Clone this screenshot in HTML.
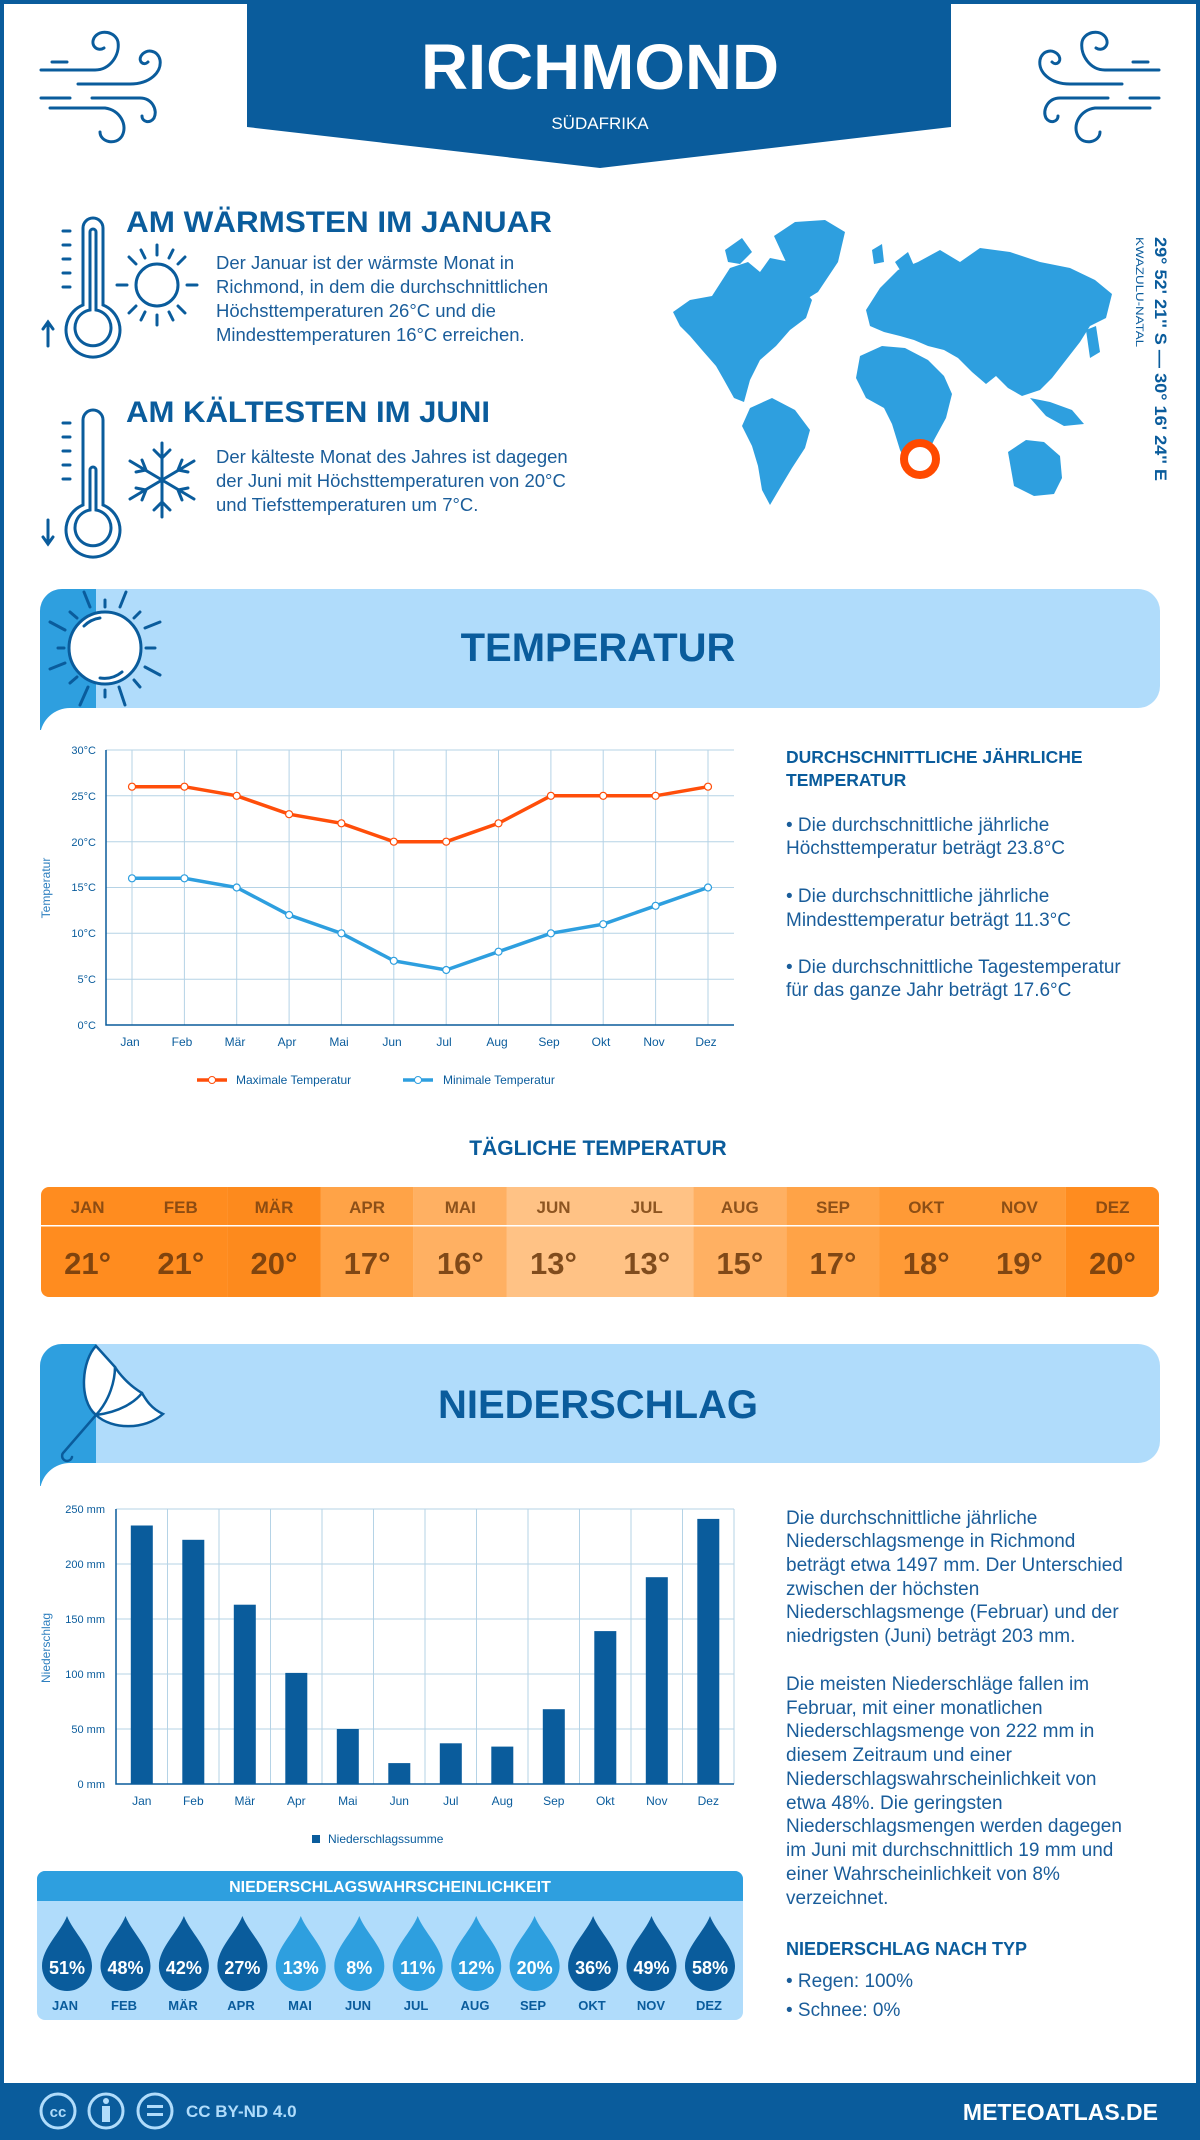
<!DOCTYPE html>
<html><head><meta charset="utf-8"><style>
html,body{margin:0;padding:0;background:#fff}
svg{display:block}
text{font-family:"Liberation Sans",sans-serif}
</style></head><body>
<svg width="1200" height="2140" viewBox="0 0 1200 2140" xmlns="http://www.w3.org/2000/svg">
<defs>
<path id="drop" d="M0,1916 C6,1932 25,1948 25,1966 A25,25 0 1 1 -25,1966 C-25,1948 -6,1932 0,1916 Z"/>
</defs>
<rect x="0" y="0" width="1200" height="2140" fill="#fff"/>
<rect x="0" y="0" width="4" height="2140" fill="#0a5c9c"/>
<rect x="1196" y="0" width="4" height="2140" fill="#0a5c9c"/>
<rect x="0" y="0" width="1200" height="4" fill="#0a5c9c"/>

<path d="M247,0 H951 V127 L600,168 L247,127 Z" fill="#0a5c9c"/>
<text x="600" y="89" text-anchor="middle" font-size="64" font-weight="bold" fill="#fff" textLength="358" lengthAdjust="spacingAndGlyphs">RICHMOND</text>
<text x="600" y="129" text-anchor="middle" font-size="17" fill="#fff">SÜDAFRIKA</text>

<g fill="none" stroke="#0a5c9c" stroke-width="3" stroke-linecap="round">
 <g id="wind">
  <path d="M41,70 H95 C110,70 120,55 118,42 C116,32 100,28 94,38 C90,46 98,52 104,48"/>
  <path d="M52,62 H67"/>
  <path d="M78,84 H130 C150,84 162,72 160,60 C158,50 146,48 141,56 C138,62 144,66 148,62"/>
  <path d="M41,98 H70"/>
  <path d="M92,98 H140 C152,98 158,110 154,118 C150,124 142,122 142,116"/>
  <path d="M50,108 H105 C120,110 128,125 122,136 C116,146 100,142 100,132"/>
 </g>
 <use href="#wind" transform="translate(1200,0) scale(-1,1)"/>
</g>

<g fill="none" stroke="#0a5c9c" stroke-width="3" stroke-linecap="round">
 <path d="M83,305 V228 A10,10 0 0 1 103,228 V305 A27,27 0 1 1 83,305 Z"/>
 <path d="M90,310 V232 A3,3 0 0 1 96,232 V310 A18,18 0 1 1 90,310 Z"/>
 <path d="M63,231 H70 M63,245 H70 M63,259 H70 M63,273 H70 M63,287 H70"/>
 <path d="M48,346 V322 M43,329 L48,322 L53,329"/>
 <circle cx="157" cy="285" r="21"/>
 <path d="M157,255 V245 M157,315 V325 M127,285 H117 M187,285 H197 M136,264 L129,257 M178,264 L185,257 M136,306 L129,313 M178,306 L185,313 M145,258 L141,250 M169,258 L173,250 M145,312 L141,320 M169,312 L173,320"/>
</g>
<g fill="none" stroke="#0a5c9c" stroke-width="3" stroke-linecap="round">
 <path d="M83,505 V420 A10,10 0 0 1 103,420 V505 A27,27 0 1 1 83,505 Z"/>
 <path d="M90,510 V470 A3,3 0 0 1 96,470 V510 A18,18 0 1 1 90,510 Z"/>
 <path d="M63,423 H70 M63,437 H70 M63,451 H70 M63,465 H70 M63,479 H70"/>
 <path d="M48,520 V544 M43,537 L48,544 L53,537"/>
 <path d="M162,443 V517 M130,461 L194,499 M130,499 L194,461"/>
 <path d="M154,450 L162,458 L170,450 M154,510 L162,502 L170,510 M136,472 L146,470 L142,460 M188,488 L178,490 L182,500 M136,488 L146,490 L142,500 M188,472 L178,470 L182,460"/>
</g>

<text x="126" y="232" font-size="30" font-weight="bold" fill="#0a5c9c" textLength="426" lengthAdjust="spacingAndGlyphs">AM WÄRMSTEN IM JANUAR</text>
<g font-size="18.5" fill="#1a5d9a">
<text x="216" y="269">Der Januar ist der wärmste Monat in</text>
<text x="216" y="293">Richmond, in dem die durchschnittlichen</text>
<text x="216" y="317">Höchsttemperaturen 26°C und die</text>
<text x="216" y="341">Mindesttemperaturen 16°C erreichen.</text>
</g>
<text x="126" y="422" font-size="30" font-weight="bold" fill="#0a5c9c" textLength="364" lengthAdjust="spacingAndGlyphs">AM KÄLTESTEN IM JUNI</text>
<g font-size="18.5" fill="#1a5d9a">
<text x="216" y="463">Der kälteste Monat des Jahres ist dagegen</text>
<text x="216" y="487">der Juni mit Höchsttemperaturen von 20°C</text>
<text x="216" y="511">und Tiefsttemperaturen um 7°C.</text>
</g>

<g fill="#2e9fdf">
 <path d="M673,312 L690,300 L712,296 L730,268 L748,262 L760,272 L770,258 L790,262 L800,285 L812,300 L806,318 L790,330 L776,346 L760,360 L750,380 L744,402 L734,398 L724,380 L716,366 L702,350 L690,336 L680,326 Z"/>
 <path d="M725,250 L742,238 L752,252 L740,264 L728,262 Z"/>
 <path d="M774,236 L795,222 L825,220 L845,232 L838,262 L818,292 L805,300 L796,285 L786,262 Z"/>
 <path d="M750,408 L772,398 L795,410 L810,430 L805,448 L792,468 L780,488 L770,505 L762,490 L758,466 L752,446 L742,426 Z"/>
 <path d="M866,310 L880,288 L898,270 L918,262 L940,250 L960,262 L980,248 L1010,252 L1040,262 L1070,268 L1095,280 L1112,294 L1106,318 L1090,326 L1080,342 L1066,360 L1052,378 L1040,390 L1022,396 L1008,388 L996,376 L986,384 L972,372 L958,358 L944,350 L928,346 L914,340 L900,336 L884,332 L870,326 Z"/>
 <path d="M895,262 L908,252 L915,268 L905,278 Z"/>
 <path d="M860,356 L882,346 L905,348 L928,360 L944,376 L952,394 L946,418 L934,440 L924,462 L910,470 L900,450 L892,424 L884,408 L866,398 L856,378 Z"/>
 <path d="M1008,452 L1026,440 L1044,442 L1060,456 L1062,478 L1054,494 L1034,496 L1014,486 Z"/>
 <path d="M1030,398 L1050,402 L1072,410 L1084,424 L1064,426 L1046,416 Z"/>
 <path d="M1086,330 L1096,326 L1100,352 L1090,358 Z"/>
 <path d="M872,250 L882,244 L884,262 L874,264 Z"/>
</g>
<circle cx="920" cy="459" r="16" fill="#fff" stroke="#ff4a00" stroke-width="8"/>
<text transform="translate(1155,237) rotate(90)" font-size="17" font-weight="bold" fill="#0a5c9c" textLength="244" lengthAdjust="spacingAndGlyphs">29° 52' 21'' S — 30° 16' 24'' E</text>
<text transform="translate(1136,237) rotate(90)" font-size="11" fill="#0a5c9c" textLength="110" lengthAdjust="spacingAndGlyphs">KWAZULU-NATAL</text>

<rect x="40" y="589" width="1120" height="119" rx="22" fill="#b0dcfb"/>
<path d="M40,730 V611 A22,22 0 0 1 62,589 H96 V730 Z" fill="#2e9fdf"/>
<path d="M40,740 V735 A30,30 0 0 1 70,708 H140 V740 Z" fill="#fff"/>
<g stroke="#0a5c9c" stroke-width="3" stroke-linecap="round" fill="none">
 <path d="M105,600 V607 M105,690 V697 M58,648 H64 M146,648 H155 M84,592 L90,607 M126,592 L120,607 M70,612 L77,618 M140,612 L134,618 M50,622 L65,630 M160,622 L145,628 M50,669 L65,663 M160,675 L145,667 M70,683 L77,677 M140,687 L134,680 M80,705 L88,687 M125,705 L119,687"/>
 <circle cx="105" cy="648" r="36" fill="#fff"/>
 <path d="M84,626 A28,28 0 0 1 100,618 M100,678 A28,28 0 0 0 122,672"/>
</g>
<text x="598" y="661" text-anchor="middle" font-size="40" font-weight="bold" fill="#0a5c9c">TEMPERATUR</text>

<g stroke="#b5d3e6" stroke-width="1">
 <path d="M106,750 H734 M106,795.8 H734 M106,841.7 H734 M106,887.5 H734 M106,933.3 H734 M106,979.2 H734"/>
 <path d="M132,750 V1025 M184.4,750 V1025 M236.7,750 V1025 M289.1,750 V1025 M341.4,750 V1025 M393.8,750 V1025 M446.2,750 V1025 M498.5,750 V1025 M550.9,750 V1025 M603.2,750 V1025 M655.6,750 V1025 M708,750 V1025"/>
</g>
<path d="M106,750 V1025 H734" stroke="#0a5c9c" stroke-width="1.5" fill="none"/>
<g font-size="11" fill="#0a5c9c" text-anchor="end">
<text x="96" y="754">30°C</text><text x="96" y="800">25°C</text><text x="96" y="846">20°C</text><text x="96" y="891">15°C</text><text x="96" y="937">10°C</text><text x="96" y="983">5°C</text><text x="96" y="1029">0°C</text>
</g>
<text transform="translate(50,888) rotate(-90)" text-anchor="middle" font-size="12" fill="#2e7fbf">Temperatur</text>
<g font-size="12" fill="#0a5c9c" text-anchor="middle">
<text x="130" y="1046">Jan</text><text x="182" y="1046">Feb</text><text x="235" y="1046">Mär</text><text x="287" y="1046">Apr</text><text x="339" y="1046">Mai</text><text x="392" y="1046">Jun</text><text x="444" y="1046">Jul</text><text x="497" y="1046">Aug</text><text x="549" y="1046">Sep</text><text x="601" y="1046">Okt</text><text x="654" y="1046">Nov</text><text x="706" y="1046">Dez</text>
</g>
<polyline points="132,786.7 184.4,786.7 236.7,795.8 289.1,814.2 341.4,823.3 393.8,841.7 446.2,841.7 498.5,823.3 550.9,795.8 603.2,795.8 655.6,795.8 708,786.7" fill="none" stroke="#ff4e0a" stroke-width="3.5"/>
<polyline points="132,878.3 184.4,878.3 236.7,887.5 289.1,915 341.4,933.3 393.8,960.8 446.2,970 498.5,951.7 550.9,933.3 603.2,924.2 655.6,905.8 708,887.5" fill="none" stroke="#2e9fdf" stroke-width="3.5"/>
<g fill="#fff" stroke="#ff4e0a" stroke-width="1.2">
<circle cx="132" cy="786.7" r="3.5"/><circle cx="184.4" cy="786.7" r="3.5"/><circle cx="236.7" cy="795.8" r="3.5"/><circle cx="289.1" cy="814.2" r="3.5"/><circle cx="341.4" cy="823.3" r="3.5"/><circle cx="393.8" cy="841.7" r="3.5"/><circle cx="446.2" cy="841.7" r="3.5"/><circle cx="498.5" cy="823.3" r="3.5"/><circle cx="550.9" cy="795.8" r="3.5"/><circle cx="603.2" cy="795.8" r="3.5"/><circle cx="655.6" cy="795.8" r="3.5"/><circle cx="708" cy="786.7" r="3.5"/>
</g>
<g fill="#fff" stroke="#2e9fdf" stroke-width="1.2">
<circle cx="132" cy="878.3" r="3.5"/><circle cx="184.4" cy="878.3" r="3.5"/><circle cx="236.7" cy="887.5" r="3.5"/><circle cx="289.1" cy="915" r="3.5"/><circle cx="341.4" cy="933.3" r="3.5"/><circle cx="393.8" cy="960.8" r="3.5"/><circle cx="446.2" cy="970" r="3.5"/><circle cx="498.5" cy="951.7" r="3.5"/><circle cx="550.9" cy="933.3" r="3.5"/><circle cx="603.2" cy="924.2" r="3.5"/><circle cx="655.6" cy="905.8" r="3.5"/><circle cx="708" cy="887.5" r="3.5"/>
</g>
<path d="M197,1080 H227" stroke="#ff4e0a" stroke-width="3.5"/><circle cx="212" cy="1080" r="3.5" fill="#fff" stroke="#ff4e0a"/>
<text x="236" y="1084" font-size="12" fill="#0a5c9c">Maximale Temperatur</text>
<path d="M403,1080 H433" stroke="#2e9fdf" stroke-width="3.5"/><circle cx="418" cy="1080" r="3.5" fill="#fff" stroke="#2e9fdf"/>
<text x="443" y="1084" font-size="12" fill="#0a5c9c">Minimale Temperatur</text>

<g font-size="17.5" font-weight="bold" fill="#0a5c9c">
<text x="786" y="763">DURCHSCHNITTLICHE JÄHRLICHE</text>
<text x="786" y="786">TEMPERATUR</text>
</g>
<g font-size="19" fill="#1a5d9a">
<text x="786" y="831">• Die durchschnittliche jährliche</text>
<text x="786" y="854">Höchsttemperatur beträgt 23.8°C</text>
<text x="786" y="902">• Die durchschnittliche jährliche</text>
<text x="786" y="926">Mindesttemperatur beträgt 11.3°C</text>
<text x="786" y="973">• Die durchschnittliche Tagestemperatur</text>
<text x="786" y="996">für das ganze Jahr beträgt 17.6°C</text>
</g>

<text x="598" y="1155" text-anchor="middle" font-size="21" font-weight="bold" fill="#0a5c9c">TÄGLICHE TEMPERATUR</text>
<clipPath id="tc"><rect x="41" y="1187" width="1118" height="110" rx="8"/></clipPath>
<g clip-path="url(#tc)">
<rect x="41" y="1187" width="186.4" height="110" fill="#ff8c1f"/>
<rect x="227.3" y="1187" width="93.2" height="110" fill="#fd8a1d"/>
<rect x="320.5" y="1187" width="93.2" height="110" fill="#ffa347"/>
<rect x="413.7" y="1187" width="93.2" height="110" fill="#ffb062"/>
<rect x="506.8" y="1187" width="186.4" height="110" fill="#ffc285"/>
<rect x="693.2" y="1187" width="93.2" height="110" fill="#ffb062"/>
<rect x="786.4" y="1187" width="93.2" height="110" fill="#ffa347"/>
<rect x="879.5" y="1187" width="186.4" height="110" fill="#ff9a36"/>
<rect x="1065.8" y="1187" width="93.2" height="110" fill="#ff8c1f"/>
</g>
<rect x="41" y="1225" width="1118" height="1.5" fill="#fff"/>
<g font-size="17" font-weight="bold" fill="#7a4210" text-anchor="middle" opacity="0.85">
<text x="87.6" y="1213">JAN</text><text x="180.8" y="1213">FEB</text><text x="274" y="1213">MÄR</text><text x="367.1" y="1213">APR</text><text x="460.3" y="1213">MAI</text><text x="553.5" y="1213">JUN</text><text x="646.7" y="1213">JUL</text><text x="739.8" y="1213">AUG</text><text x="833" y="1213">SEP</text><text x="926.2" y="1213">OKT</text><text x="1019.4" y="1213">NOV</text><text x="1112.5" y="1213">DEZ</text>
</g>
<g font-size="31" font-weight="bold" fill="#6a380c" text-anchor="middle" opacity="0.85">
<text x="87.6" y="1274">21°</text><text x="180.8" y="1274">21°</text><text x="274" y="1274">20°</text><text x="367.1" y="1274">17°</text><text x="460.3" y="1274">16°</text><text x="553.5" y="1274">13°</text><text x="646.7" y="1274">13°</text><text x="739.8" y="1274">15°</text><text x="833" y="1274">17°</text><text x="926.2" y="1274">18°</text><text x="1019.4" y="1274">19°</text><text x="1112.5" y="1274">20°</text>
</g>

<rect x="40" y="1344" width="1120" height="119" rx="22" fill="#b0dcfb"/>
<path d="M40,1486 V1366 A22,22 0 0 1 62,1344 H96 V1486 Z" fill="#2e9fdf"/>
<path d="M40,1490 A30,30 0 0 1 70,1463 H140 V1490 Z" fill="#fff"/>
<g stroke="#0a5c9c" stroke-width="2.5" fill="none" stroke-linecap="round">
 <path d="M96,1346 C82,1360 78,1400 96,1415 C112,1430 145,1430 163,1414 C150,1408 145,1398 142,1393 C128,1385 118,1372 115,1367 Z" fill="#fff"/>
 <path d="M96,1415 C110,1400 115,1380 115,1367 M96,1415 C120,1412 135,1402 142,1393"/>
 <path d="M96,1415 L64,1452 A5,5 0 1 0 72,1457"/>
</g>
<text x="598" y="1418" text-anchor="middle" font-size="40" font-weight="bold" fill="#0a5c9c">NIEDERSCHLAG</text>

<g stroke="#b5d3e6" stroke-width="1">
 <path d="M116,1509 H734 M116,1564 H734 M116,1619 H734 M116,1674 H734 M116,1729 H734"/>
 <path d="M167.5,1509 V1784 M219,1509 V1784 M270.5,1509 V1784 M322,1509 V1784 M373.5,1509 V1784 M425,1509 V1784 M476.5,1509 V1784 M528,1509 V1784 M579.5,1509 V1784 M631,1509 V1784 M682.5,1509 V1784 M734,1509 V1784"/>
</g>
<path d="M116,1509 V1784 H734" stroke="#0a5c9c" stroke-width="1.5" fill="none"/>
<g font-size="11" fill="#0a5c9c" text-anchor="end">
<text x="105" y="1513">250 mm</text><text x="105" y="1568">200 mm</text><text x="105" y="1623">150 mm</text><text x="105" y="1678">100 mm</text><text x="105" y="1733">50 mm</text><text x="105" y="1788">0 mm</text>
</g>
<text transform="translate(50,1648) rotate(-90)" text-anchor="middle" font-size="12" fill="#2e7fbf">Niederschlag</text>
<g fill="#0a5c9c">
<rect x="130.8" y="1525.5" width="22" height="258.5"/>
<rect x="182.3" y="1539.8" width="22" height="244.2"/>
<rect x="233.8" y="1604.7" width="22" height="179.3"/>
<rect x="285.3" y="1672.9" width="22" height="111.1"/>
<rect x="336.8" y="1729" width="22" height="55"/>
<rect x="388.3" y="1763.1" width="22" height="20.9"/>
<rect x="439.8" y="1743.3" width="22" height="40.7"/>
<rect x="491.3" y="1746.6" width="22" height="37.4"/>
<rect x="542.8" y="1709.2" width="22" height="74.8"/>
<rect x="594.3" y="1631.1" width="22" height="152.9"/>
<rect x="645.8" y="1577.2" width="22" height="206.8"/>
<rect x="697.3" y="1518.9" width="22" height="265.1"/>
</g>
<g font-size="12" fill="#0a5c9c" text-anchor="middle">
<text x="141.8" y="1805">Jan</text><text x="193.3" y="1805">Feb</text><text x="244.8" y="1805">Mär</text><text x="296.3" y="1805">Apr</text><text x="347.8" y="1805">Mai</text><text x="399.3" y="1805">Jun</text><text x="450.8" y="1805">Jul</text><text x="502.3" y="1805">Aug</text><text x="553.8" y="1805">Sep</text><text x="605.3" y="1805">Okt</text><text x="656.8" y="1805">Nov</text><text x="708.3" y="1805">Dez</text>
</g>
<rect x="312" y="1835" width="8" height="8" fill="#0a5c9c"/>
<text x="328" y="1843" font-size="12" fill="#0a5c9c">Niederschlagssumme</text>

<rect x="37" y="1871" width="706" height="149" rx="8" fill="#b0dcfb"/>
<path d="M37,1901 V1879 A8,8 0 0 1 45,1871 H735 A8,8 0 0 1 743,1879 V1901 Z" fill="#2e9fdf"/>
<text x="390" y="1892" text-anchor="middle" font-size="16" font-weight="bold" fill="#fff">NIEDERSCHLAGSWAHRSCHEINLICHKEIT</text>
<g fill="#0a5c9c"><use href="#drop" x="67"/><use href="#drop" x="125.5"/><use href="#drop" x="183.9"/><use href="#drop" x="242.4"/><use href="#drop" x="593.1"/><use href="#drop" x="651.5"/><use href="#drop" x="710"/></g>
<g fill="#2e9fdf"><use href="#drop" x="300.8"/><use href="#drop" x="359.3"/><use href="#drop" x="417.7"/><use href="#drop" x="476.2"/><use href="#drop" x="534.6"/></g>
<g font-size="18" font-weight="bold" fill="#fff" text-anchor="middle">
<text x="67" y="1974">51%</text><text x="125.5" y="1974">48%</text><text x="183.9" y="1974">42%</text><text x="242.4" y="1974">27%</text><text x="300.8" y="1974">13%</text><text x="359.3" y="1974">8%</text><text x="417.7" y="1974">11%</text><text x="476.2" y="1974">12%</text><text x="534.6" y="1974">20%</text><text x="593.1" y="1974">36%</text><text x="651.5" y="1974">49%</text><text x="710" y="1974">58%</text>
</g>
<g font-size="13" font-weight="bold" fill="#0a5c9c" text-anchor="middle">
<text x="65" y="2010">JAN</text><text x="124" y="2010">FEB</text><text x="183" y="2010">MÄR</text><text x="241" y="2010">APR</text><text x="300" y="2010">MAI</text><text x="358" y="2010">JUN</text><text x="416" y="2010">JUL</text><text x="475" y="2010">AUG</text><text x="533" y="2010">SEP</text><text x="592" y="2010">OKT</text><text x="651" y="2010">NOV</text><text x="709" y="2010">DEZ</text>
</g>

<g font-size="19" fill="#1a5d9a">
<text x="786" y="1524">Die durchschnittliche jährliche</text>
<text x="786" y="1547">Niederschlagsmenge in Richmond</text>
<text x="786" y="1571">beträgt etwa 1497 mm. Der Unterschied</text>
<text x="786" y="1595">zwischen der höchsten</text>
<text x="786" y="1618">Niederschlagsmenge (Februar) und der</text>
<text x="786" y="1642">niedrigsten (Juni) beträgt 203 mm.</text>
<text x="786" y="1690">Die meisten Niederschläge fallen im</text>
<text x="786" y="1714">Februar, mit einer monatlichen</text>
<text x="786" y="1737">Niederschlagsmenge von 222 mm in</text>
<text x="786" y="1761">diesem Zeitraum und einer</text>
<text x="786" y="1785">Niederschlagswahrscheinlichkeit von</text>
<text x="786" y="1809">etwa 48%. Die geringsten</text>
<text x="786" y="1832">Niederschlagsmengen werden dagegen</text>
<text x="786" y="1856">im Juni mit durchschnittlich 19 mm und</text>
<text x="786" y="1880">einer Wahrscheinlichkeit von 8%</text>
<text x="786" y="1904">verzeichnet.</text>
</g>
<text x="786" y="1955" font-size="18" font-weight="bold" fill="#0a5c9c">NIEDERSCHLAG NACH TYP</text>
<g font-size="19" fill="#1a5d9a">
<text x="786" y="1987">• Regen: 100%</text>
<text x="786" y="2016">• Schnee: 0%</text>
</g>

<rect x="0" y="2083" width="1200" height="57" fill="#0a5c9c"/>
<g fill="none" stroke="#b0dcfb" stroke-width="3">
<circle cx="58" cy="2111" r="17"/><circle cx="106" cy="2111" r="17"/><circle cx="155" cy="2111" r="17"/>
</g>
<text x="58" y="2117" text-anchor="middle" font-size="15" font-weight="bold" fill="#b0dcfb">cc</text>
<circle cx="106" cy="2101" r="3" fill="#b0dcfb"/>
<rect x="102" y="2106" width="8" height="16" fill="#b0dcfb"/>
<rect x="147" y="2105" width="16" height="3" fill="#b0dcfb"/><rect x="147" y="2113" width="16" height="3" fill="#b0dcfb"/>
<text x="186" y="2117" font-size="17" font-weight="bold" fill="#b0dcfb">CC BY-ND 4.0</text>
<text x="1158" y="2120" text-anchor="end" font-size="23" font-weight="bold" fill="#fff">METEOATLAS.DE</text>
</svg>
</body></html>
